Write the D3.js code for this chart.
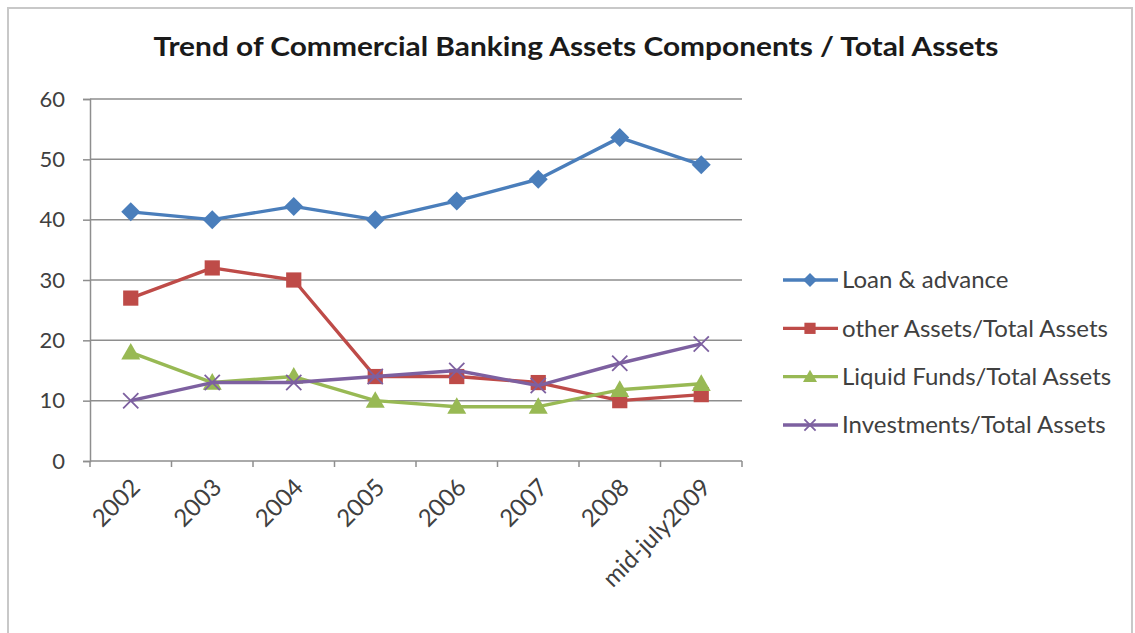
<!DOCTYPE html>
<html>
<head>
<meta charset="utf-8">
<script src="https://cdn.jsdelivr.net/npm/d3@7"></script>
<style>
  html, body { margin: 0; padding: 0; background: #ffffff; }
  svg { display: block; }
  text { font-family: Lato, "Open Sans", sans-serif; fill: #404040; }
</style>
</head>
<body>
<script>
// Commercial banking asset components as a share of total assets (%)
const categories = ["2002", "2003", "2004", "2005", "2006", "2007", "2008", "mid-july2009"];
const loanAdvance   = [41.3, 40, 42.2, 40, 43.1, 46.7, 53.6, 49.1];
const otherAssets   = [27, 32, 30, 14, 14, 13, 10, 11];
const liquidFunds   = [18, 13, 14, 10, 9, 9, 11.8, 12.8];
const investments   = [10, 13, 13, 14, 15, 12.5, 16.2, 19.4];
const seriesNames   = ["Loan & advance", "other Assets/Total Assets", "Liquid Funds/Total Assets", "Investments/Total Assets"];
const yTicks        = [0, 10, 20, 30, 40, 50, 60];
const chartTitle    = "Trend of Commercial Banking Assets Components / Total Assets";

const seriesValues = [loanAdvance, otherAssets, liquidFunds, investments];
const colors  = ["#4a7ebb", "#be4b48", "#98b954", "#7d60a0"];
const markers = ["diamond", "square", "triangle", "cross"];

const W = 1135, H = 633;
const plot = { left: 90, right: 742, top: 99, bottom: 461 };

const svg = d3.select("body").append("svg").attr("width", W).attr("height", H);

// outer chart frame
svg.append("path")
  .attr("d", `M8,${H} L8,8 L1132,8 L1132,${H}`)
  .attr("fill", "none").attr("stroke", "#c8c8c8").attr("stroke-width", 2);

const x = d3.scaleBand().domain(categories).range([plot.left, plot.right]);
const y = d3.scaleLinear().domain([0, 60]).range([plot.bottom, plot.top]);

// title
svg.append("text")
  .attr("x", 576).attr("y", 56)
  .attr("text-anchor", "middle")
  .attr("font-size", 27).attr("font-weight", "bold")
  .attr("textLength", 845).attr("lengthAdjust", "spacingAndGlyphs")
  .style("fill", "#1a1a1a")
  .text(chartTitle);

// horizontal gridlines
svg.append("g").selectAll("line").data(yTicks.filter(d => d > 0)).join("line")
  .attr("x1", plot.left).attr("x2", plot.right)
  .attr("y1", d => y(d)).attr("y2", d => y(d))
  .attr("stroke", "#8e8e8e").attr("stroke-width", 1.5);

// y axis
const yAxis = svg.append("g")
  .attr("transform", `translate(${plot.left},0)`)
  .call(d3.axisLeft(y).tickValues(yTicks).tickSize(7).tickPadding(18).tickFormat(d3.format("d")));
yAxis.select(".domain").attr("stroke", "#8e8e8e").attr("stroke-width", 1.5);
yAxis.selectAll(".tick line").attr("stroke", "#8e8e8e").attr("stroke-width", 1.5);
yAxis.selectAll(".tick text").attr("font-size", 22).attr("font-family", "Lato, sans-serif").style("fill", "#404040");

// x axis with tick marks between categories
const xAxisG = svg.append("g").attr("transform", `translate(0,${plot.bottom})`);
xAxisG.append("line")
  .attr("x1", plot.left).attr("x2", plot.right)
  .attr("stroke", "#8e8e8e").attr("stroke-width", 1.5);
const boundaries = categories.map(c => x(c)).concat([x(categories[categories.length - 1]) + x.bandwidth()]);
xAxisG.selectAll("line.tk").data(boundaries).join("line").attr("class", "tk")
  .attr("x1", d => d).attr("x2", d => d).attr("y1", 0).attr("y2", 6)
  .attr("stroke", "#8e8e8e").attr("stroke-width", 1.5);
xAxisG.selectAll("text").data(categories).join("text")
  .attr("transform", d => `translate(${x(d) + x.bandwidth() / 2 - 1},${16}) rotate(-45)`)
  .attr("text-anchor", "end")
  .attr("dy", "0.7em")
  .attr("font-size", 24)
  .text(d => d);

// marker drawing
function drawMarker(g, type, color, size) {
  const s = size;
  if (type === "diamond") {
    g.append("path").attr("d", `M0,${-s} L${s},0 L0,${s} L${-s},0 Z`).attr("fill", color);
  } else if (type === "square") {
    g.append("rect").attr("x", -s * 0.8).attr("y", -s * 0.8).attr("width", s * 1.6).attr("height", s * 1.6).attr("fill", color);
  } else if (type === "triangle") {
    g.append("path").attr("d", `M0,${-s} L${s},${s * 0.75} L${-s},${s * 0.75} Z`).attr("fill", color);
  } else {
    const c = s * 0.8;
    g.append("path").attr("d", `M${-c},${-c} L${c},${c} M${-c},${c} L${c},${-c}`)
      .attr("stroke", color).attr("stroke-width", 1.8).attr("fill", "none");
  }
}

const line = d3.line()
  .x((d, i) => x(categories[i]) + x.bandwidth() / 2)
  .y(d => y(d));

seriesValues.forEach((vals, k) => {
  const g = svg.append("g");
  g.append("path").datum(vals)
    .attr("d", line)
    .attr("fill", "none")
    .attr("stroke", colors[k])
    .attr("stroke-width", 3.4)
    .attr("stroke-linejoin", "round");
  vals.forEach((v, i) => {
    const mg = g.append("g")
      .attr("transform", `translate(${x(categories[i]) + x.bandwidth() / 2},${y(v)})`);
    drawMarker(mg, markers[k], colors[k], 9.5);
  });
});

// legend
const legend = svg.append("g");
const legendY = d3.scalePoint().domain(seriesNames).range([280, 425]);
seriesNames.forEach((name, k) => {
  const ly = legendY(name);
  legend.append("line")
    .attr("x1", 783).attr("x2", 838).attr("y1", ly).attr("y2", ly)
    .attr("stroke", colors[k]).attr("stroke-width", 3.4);
  const mg = legend.append("g").attr("transform", `translate(810,${ly})`);
  drawMarker(mg, markers[k], colors[k], 7);
  legend.append("text")
    .attr("x", 842).attr("y", ly).attr("dy", "0.35em")
    .attr("font-size", 24)
    .text(name);
});
</script>
</body>
</html>
